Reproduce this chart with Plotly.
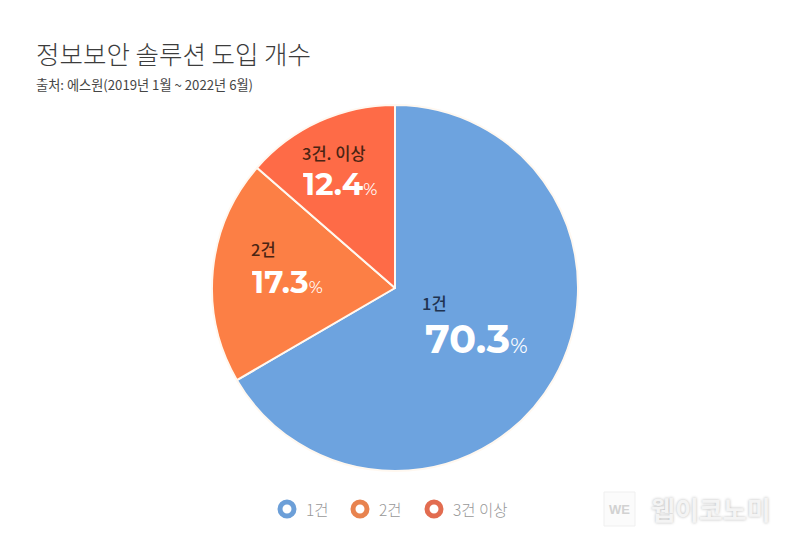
import plotly.graph_objects as go

W, H = 790, 544
KR = "Noto Sans CJK KR"
NUM = "Montserrat, Lato, 'Open Sans', sans-serif"

# ── data ────────────────────────────────────────────────────────────────────
categories = ["1건", "2건", "3건 이상"]
slice_labels = ["1건", "2건", "3건. 이상"]
printed_pct = ["70.3", "17.3", "12.4"]
# wedge sizes as drawn in the picture (they differ a bit from the printed %)
drawn_share = [66.6, 19.8, 13.6]
COLORS = ["#6DA3DF", "#FC7F45", "#FE6B47"]
LEGEND_COLORS = ["#6C9FD8", "#E8834F", "#E26C50"]
LABEL_COLORS = ["#1F3350", "#4A2413", "#4A2413"]


def px(x):
    return x / W


def py(y):
    return 1 - y / H


def txt(x, y, text, size, color, family=KR, anchor="left", weight=400, height=None, shadow=None):
    fig.add_annotation(
        x=px(x), y=py(y), xref="paper", yref="paper", text=text, showarrow=False,
        xanchor=anchor, yanchor="middle", align="left", height=height, borderpad=0,
        font=dict(family=family, size=size, color=color, weight=weight, shadow=shadow),
    )


fig = go.Figure(
    go.Pie(
        values=drawn_share, labels=categories, sort=False, direction="clockwise",
        rotation=0, textinfo="none", hoverinfo="label",
        marker=dict(colors=COLORS, line=dict(color="#FFF8F0", width=2)),
        domain=dict(x=[px(212), px(578)], y=[py(471), py(105)]),
    )
)

# title
txt(35, 53, "정보보안 솔루션 도입 개수", 25.5, "#3C3C3C", weight=300)
txt(35, 84, "출처: 에스원(2019년 1월 ~ 2022년 6월)", 13.2, "#454545")

# slice labels
label_pos = [(421, 303), (250, 249), (301, 153)]
pct_pos = [(424, 338), (251, 281), (302, 183)]
pct_size = [40, 31, 31]
unit_size = [21, 17, 17]
for i in range(3):
    x, y = label_pos[i]
    txt(x, y, slice_labels[i], 16.5, LABEL_COLORS[i], weight=500, height=18)
    x, y = pct_pos[i]
    txt(x, y, f"<b>{printed_pct[i]}</b><span style='font-size:{unit_size[i]}px'>%</span>",
        pct_size[i], "#FFFFFF", family=NUM, height=pct_size[i] - 8)

# legend, hand placed under the pie
legend_x = [287, 360, 434]
for i, name in enumerate(categories):
    cx = legend_x[i]
    fig.add_shape(
        type="circle", xref="paper", yref="paper",
        x0=px(cx - 7), x1=px(cx + 7), y0=py(509 + 7), y1=py(509 - 7),
        fillcolor="#FFFFFF", line=dict(color=LEGEND_COLORS[i], width=5),
    )
    txt(cx + 18, 509, name, 15.5, "#989898", weight=300)

# watermark
fig.add_shape(
    type="rect", xref="paper", yref="paper",
    x0=px(604), x1=px(635), y0=py(526), y1=py(492),
    fillcolor="#FBFBFB", line=dict(color="#EFEFEF", width=1),
)
txt(619.5, 509, "<b>WE</b>", 13, "#D2D2D2", family="Liberation Sans", anchor="center")
txt(650, 508, "<b>웹이코노미</b>", 26, "#F4F4F4", shadow="0 0 3px #B8B8B8")

fig.update_layout(
    width=W, height=H, margin=dict(l=0, r=0, t=0, b=0),
    paper_bgcolor="#FFFFFF", showlegend=False,
)

# drop the page's default body margin so the figure sits at the window corner
fig.write_html(
    "out.html",
    config={"displayModeBar": False},
    post_script="document.body.style.margin='0';",
)
